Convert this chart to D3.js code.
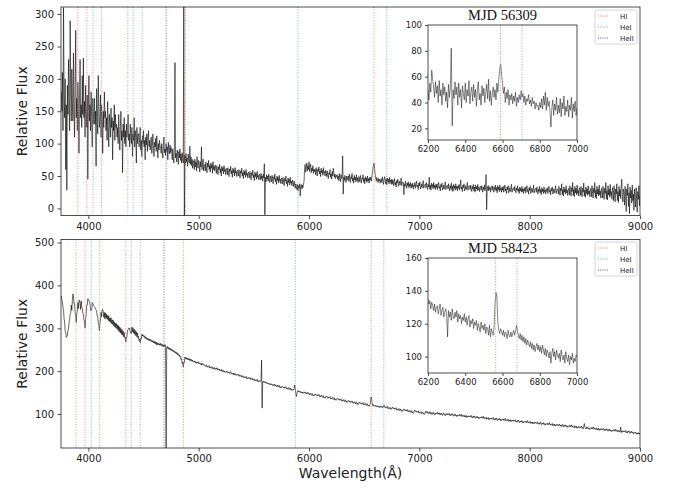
<!DOCTYPE html>
<html lang="en">
<head>
  <meta charset="UTF-8">
  <title>Spectra MJD 56309 / 58423</title>
  <script src="https://d3js.org/d3.v7.min.js"></script>
  <style>
    body { margin: 0; background: #fff; }
    svg { font-family: "DejaVu Sans", sans-serif; }
  </style>
</head>
<body>
  <script>
    // main spectra, one value every 5 A from 3755 A (20 values = 100 A per row)
    const waveStart = 3755, waveStep = 5;
    const flux56309 = [
      180,150,210,120,310,175,140,200,60,160,28,190,145,230,170,120,290,185,135,215,
      165,135,240,150,110,185,275,140,170,120,195,150,85,175,230,140,160,125,205,145,
      232,140,165,110,190,150,125,175,45,150,205,135,160,120,180,140,95,170,150,130,
      170,130,150,65,185,140,115,205,150,125,140,175,110,160,135,85,150,125,180,140,
      150,120,140,105,165,125,95,145,130,110,155,125,140,75,135,120,160,105,145,125,
      130,110,125,100,145,115,90,125,150,105,120,55,130,110,140,100,120,95,130,110,
      120,145,105,115,95,130,110,100,125,80,115,105,140,95,120,110,70,125,100,115,
      115,95,110,125,90,105,80,112,100,120,95,105,75,110,98,115,88,108,120,95,
      105,90,100,110,85,98,115,92,80,102,95,108,88,112,96,78,100,90,105,95,
      95,85,100,88,78,98,110,86,92,82,100,88,95,75,102,90,84,98,86,94,
      88,75,92,80,70,95,225,78,85,72,90,80,68,88,78,92,74,84,70,86,
      78,70,320,-20,82,68,85,72,78,65,84,74,70,96,68,80,66,76,62,74,
      70,60,76,64,72,58,80,66,62,74,68,56,72,64,95,60,70,76,58,66,
      68,58,72,62,55,70,64,74,60,66,56,70,62,68,54,72,60,65,58,67,
      62,54,66,58,52,64,60,68,55,61,50,65,58,63,53,66,57,60,52,62,
      60,52,63,55,49,61,57,65,53,58,48,62,55,60,50,63,54,57,49,59,
      57,50,60,52,47,58,54,62,50,55,46,59,52,57,48,60,51,54,47,56,
      54,47,57,49,44,55,51,59,47,52,43,56,49,54,45,57,48,51,44,53,
      51,44,54,46,50,42,53,47,69,-10,48,41,52,45,50,42,53,46,40,50,
      48,41,51,43,38,49,45,53,41,46,37,50,43,48,39,51,42,45,38,47,
      45,38,48,40,35,46,42,50,38,43,34,47,40,45,36,48,39,42,35,44,
      40,34,42,36,31,38,33,29,37,27,35,31,38,19,33,37,30,36,32,38,
      42,60,68,56,64,70,58,66,60,72,57,64,68,55,62,58,66,54,61,57,
      60,52,63,55,50,61,57,64,53,58,49,62,55,59,51,63,54,57,50,59,
      56,49,58,51,46,55,52,60,48,53,45,57,50,62,55,48,53,46,51,49,
      52,45,50,43,54,47,41,52,46,49,81,22,48,43,51,45,40,50,44,48,
      50,42,53,45,40,49,46,54,42,47,39,51,44,48,41,52,43,47,40,49,
      48,41,51,44,39,47,45,52,41,46,38,49,43,47,40,50,42,46,39,48,
      44,48,42,50,55,62,68,70,60,52,46,42,48,44,40,46,42,45,39,44,
      46,40,48,42,37,45,49,43,38,46,36,47,41,45,38,48,40,44,37,45,
      38,44,35,41,46,36,40,33,43,39,45,34,37,42,36,40,47,35,39,41,
      40,21,38,34,42,36,31,39,35,41,32,38,34,40,31,37,33,39,30,36,
      34,40,31,37,42,33,36,29,39,35,41,30,33,38,32,36,43,31,35,37,
      38,32,40,34,29,37,33,48,30,36,28,39,33,37,30,40,32,36,29,37,
      32,38,29,35,40,31,34,27,37,33,39,28,31,36,30,34,41,29,33,35,
      36,30,38,32,27,35,31,39,28,34,26,37,31,35,28,38,30,34,27,35,
      31,37,28,34,44,30,33,26,36,32,38,27,30,35,29,33,40,28,32,34,
      35,29,36,31,26,34,30,37,27,33,25,36,30,34,27,37,29,32,26,34,
      34,28,35,30,25,33,29,36,27,32,52,-2,30,34,27,35,29,32,25,33,
      34,28,35,30,25,33,29,36,27,32,24,35,29,33,26,36,28,31,25,33,
      28,34,25,31,36,27,30,23,33,29,35,24,27,32,26,30,37,25,29,31,
      32,27,34,28,24,31,28,35,26,30,23,33,27,31,25,34,26,30,23,31,
      27,33,24,30,35,26,29,22,32,28,34,23,26,31,25,29,36,24,28,30,
      31,25,33,27,22,30,26,34,24,29,21,32,26,30,23,33,25,28,22,30,
      26,32,23,29,34,25,28,21,31,27,33,22,25,30,24,28,35,23,27,29,
      30,22,34,26,20,31,27,38,21,29,19,33,25,30,22,35,24,28,20,31,
      31,21,35,25,19,32,26,40,20,29,18,34,24,31,21,36,23,28,19,32,
      30,20,34,24,18,31,25,39,19,28,17,33,23,30,20,35,22,27,18,31,
      29,18,35,23,16,31,24,40,17,28,15,34,22,30,19,36,21,27,16,31,
      28,16,34,22,14,31,23,40,15,27,13,35,21,30,17,37,20,26,14,32,
      27,12,35,20,10,30,22,38,12,26,9,34,19,29,15,36,45,18,10,30,
      25,5,34,18,-5,30,20,38,3,24,-8,33,16,28,8,36,12,22,-3,30,
      18,2,32,10,-6,26,14,35,4,20];

    const flux58423 = [
      375,366,362,349,343,322,314,292,291,279,281,283,296,298,314,318,334,335,354,342,
      365,380,376,356,357,336,329,314,334,341,360,346,366,364,358,344,364,349,347,334,
      333,318,318,301,321,331,354,354,369,367,364,361,358,342,341,341,360,358,354,352,
      351,348,345,342,341,328,328,311,308,295,313,318,337,327,343,344,339,326,337,322,
      336,324,333,321,330,318,329,316,324,314,325,311,320,309,319,306,315,303,312,301,
      311,298,308,295,306,292,303,289,300,286,297,284,294,280,290,277,279,268,278,281,
      295,297,300,299,301,290,291,288,303,292,301,289,298,286,295,283,292,280,289,277,
      281,271,275,266,277,275,286,282,285,281,283,278,281,276,279,274,277,273,276,271,
      275,271,274,269,272,268,271,266,270,265,269,264,268,261,266,262,265,261,264,260,
      265,260,263,258,262,257,261,258,262,257,10,254,258,253,256,251,254,250,253,248,
      251,247,250,245,248,244,246,242,245,240,243,238,241,236,238,233,235,227,229,218,
      221,210,221,220,233,229,232,228,231,227,230,226,229,225,228,224,227,223,226,222,
      223,221,224,220,222,218,221,219,222,217,219,220,216,218,215,219,216,214,217,215,
      214,211,213,215,210,212,209,211,213,208,210,207,209,211,206,208,205,209,206,204,
      207,205,208,203,206,204,202,205,201,203,200,204,201,199,202,198,200,197,199,198,
      200,197,199,196,198,195,197,199,194,196,193,195,192,196,191,193,194,190,192,191,
      193,190,192,188,191,189,187,190,186,188,189,185,187,184,186,188,183,185,182,184,
      186,183,185,181,184,182,180,183,179,181,182,178,180,177,179,181,176,178,175,177,
      178,176,179,226,114,175,177,174,176,173,175,172,174,171,173,170,172,169,171,168,
      171,169,170,167,169,166,168,170,165,167,164,166,168,163,165,167,162,164,161,163,
      165,163,164,161,163,160,162,164,159,161,158,160,162,157,159,161,156,158,155,157,
      158,156,159,168,160,148,141,147,153,155,152,154,151,153,150,152,149,151,148,150,
      152,149,151,148,150,147,149,151,146,148,145,147,149,144,146,148,143,145,142,144,
      147,145,146,143,145,142,144,146,141,143,140,142,144,139,141,143,138,140,137,139,
      142,140,141,138,140,137,139,141,136,138,135,137,139,134,136,138,133,135,132,134,
      137,135,136,133,135,132,134,136,131,133,130,132,134,129,131,133,128,130,127,129,
      132,130,131,128,130,127,129,131,126,128,125,127,129,124,126,128,123,125,122,124,
      128,126,127,124,126,123,125,127,122,124,121,123,125,120,122,124,119,121,118,120,
      123,138,140,130,121,119,122,120,118,121,119,117,120,118,116,119,117,115,118,116,
      119,117,115,118,116,121,118,115,117,114,116,118,113,115,112,114,116,111,113,112,
      116,114,115,112,114,111,113,115,110,112,109,111,113,108,110,112,107,109,106,108,
      112,110,111,108,110,107,109,111,106,108,105,107,109,104,106,108,103,105,102,104,
      109,107,108,105,107,104,106,108,103,105,102,104,106,101,103,105,100,102,99,101,
      106,103,105,107,102,104,101,103,106,100,104,102,99,103,101,104,100,98,102,100,
      103,101,104,100,102,99,103,101,98,102,100,97,101,103,99,100,96,99,101,98,
      101,98,100,102,97,99,96,100,98,101,97,95,99,97,100,96,98,94,97,96,
      98,96,99,95,97,100,95,97,94,96,98,93,96,94,97,92,95,93,96,94,
      96,93,95,97,92,94,91,95,93,96,92,90,94,92,95,91,93,89,92,91,
      93,91,94,90,92,95,90,92,89,91,93,88,91,89,92,87,90,88,91,89,
      91,88,90,92,87,89,86,90,88,91,87,85,89,87,90,86,88,84,87,86,
      88,86,89,85,87,90,85,87,84,86,88,83,86,84,87,82,85,83,86,84,
      86,83,85,87,82,84,81,85,83,86,82,80,84,82,85,81,83,79,82,81,
      83,81,84,80,82,85,80,82,79,81,83,78,81,79,82,77,80,78,81,79,
      81,78,80,82,77,79,76,80,78,81,77,75,79,77,80,76,78,74,77,76,
      78,76,79,75,77,80,75,77,74,76,78,73,76,74,77,72,75,73,76,74,
      76,73,75,77,72,74,71,75,73,76,72,70,74,72,75,71,73,69,72,71,
      73,71,74,70,72,75,70,72,69,71,73,68,71,69,72,67,70,68,71,69,
      71,68,70,72,67,69,66,70,78,71,67,65,69,67,70,66,68,64,67,66,
      68,66,69,65,67,70,65,67,64,66,68,63,66,64,67,62,65,63,66,64,
      66,63,65,67,62,64,61,65,63,66,62,60,64,62,65,61,63,59,62,61,
      63,61,64,60,62,65,60,62,59,61,63,58,61,59,70,57,60,58,61,59,
      61,58,60,62,57,59,56,60,58,61,57,55,59,57,60,56,58,54,57,56,
      58,55,57,54,56,53,57,54,56,52];

    // zoomed H-alpha region, every 5 A from 6200 A
    const insetStart = 6200, insetStep = 5;
    const inset56309 = [
      50,42,55,48,65,58,52,44,56,47,
      53,40,57,45,50,38,55,46,52,41,
      48,36,54,44,51,82,22,50,43,56,
      46,52,38,55,44,50,36,53,47,42,
      55,40,50,45,57,39,48,52,41,54,
      44,50,37,49,56,42,47,38,53,45,
      51,40,48,54,43,58,41,49,38,47,
      52,44,50,42,55,48,58,66,70,62,
      55,47,52,40,48,43,50,38,46,42,
      47,39,45,41,48,37,44,40,46,42,
      49,44,47,40,45,38,43,41,46,39,
      42,37,44,39,41,35,40,37,38,34,
      40,36,43,35,45,38,48,34,44,37,
      41,33,21,36,42,30,39,34,44,31,
      38,32,43,29,40,35,45,30,37,33,
      42,29,38,34,44,28,39,33,41,30,36];
    const inset58423 = [
      135,132,134,129,133,131,128,132,127,130,
      131,126,129,132,125,128,130,124,127,129,
      126,112,128,124,127,122,129,125,123,127,
      124,128,121,126,123,125,120,124,122,126,
      121,124,119,123,125,118,122,120,123,117,
      121,119,122,116,120,118,115,121,117,119,
      116,120,114,118,117,113,119,112,117,115,
      113,118,132,139,136,121,116,114,117,115,
      113,116,112,115,114,111,116,113,112,115,
      112,114,116,113,115,119,116,113,111,114,
      110,113,109,112,108,111,107,110,108,106,
      109,105,108,104,107,103,106,108,104,107,
      103,106,102,107,104,101,105,100,104,102,
      99,103,96,102,105,100,103,98,104,101,
      99,102,97,104,100,98,101,96,103,99,
      97,101,95,100,98,102,96,99,97,101,100];

    // line lists (rest wavelength, A)
    const lineHI = [3889, 3970, 4102, 4340, 4861, 6563];
    const lineHeI = [4026, 4388, 4471, 5876, 6678];
    const lineHeII = [4686];
    const lineNames = ["HI", "HeI", "HeII"];
    const lineColors = ["#f07a5a", "#62a8dc", "#4656b4"];

    const titles = ["MJD 56309", "MJD 58423"];
    const shifts = [1.004, 1.0];
    const xTicks = [4000, 5000, 6000, 7000, 8000, 9000];
    const yTicks56309 = [0, 50, 100, 150, 200, 250, 300];
    const yTicks58423 = [100, 200, 300, 400, 500];
    const insetXTicks = [6200, 6400, 6600, 6800, 7000];
    const insetYTicks56309 = [20, 40, 60, 80, 100];
    const insetYTicks58423 = [100, 120, 140, 160];

    const width = 675, height = 488;
    const svg = d3.select("body").append("svg")
      .attr("width", width)
      .attr("height", height);

    const left = 61, right = 640;
    const x = d3.scaleLinear().domain([3752, 9000]).range([left, right]);
    const xi = d3.scaleLinear().domain([6200, 7000]).range([428, 577]);

    const panels = [
      { flux: flux56309, inset: inset56309, yTicks: yTicks56309, iTicks: insetYTicks56309,
        top: 7, bottom: 215.5, yDom: [-11, 311], iTop: 25, iBottom: 140, iDom: [11, 100],
        titleY: 20, legTop: 10 },
      { flux: flux58423, inset: inset58423, yTicks: yTicks58423, iTicks: insetYTicks58423,
        top: 239.5, bottom: 448, yDom: [21, 507], iTop: 258, iBottom: 373, iDom: [90, 160],
        titleY: 253, legTop: 242 }
    ];

    const lineSets = [lineHI, lineHeI, lineHeII];

    function styleAxis(g, size) {
      g.select(".domain").remove();
      g.attr("font-family", "DejaVu Sans").attr("font-size", size);
      g.selectAll(".tick line").attr("stroke", "#222").attr("stroke-width", 0.8);
      g.selectAll(".tick text").attr("fill", "#222");
    }

    panels.forEach((p, k) => {
      const y = d3.scaleLinear().domain(p.yDom).range([p.bottom, p.top]);
      const g = svg.append("g");

      g.append("clipPath").attr("id", "clip" + k)
        .append("rect")
        .attr("x", left).attr("y", p.top)
        .attr("width", right - left).attr("height", p.bottom - p.top);

      const pts = p.flux.map((f, i) => [waveStart + i * waveStep, f]);
      g.append("path")
        .datum(pts)
        .attr("clip-path", `url(#clip${k})`)
        .attr("fill", "none")
        .attr("stroke", "#000")
        .attr("stroke-width", 0.7)
        .attr("stroke-opacity", 0.85)
        .attr("d", d3.line().x(d => x(d[0])).y(d => y(d[1])));

      // identified lines
      lineSets.forEach((set, s) => {
        g.selectAll(null)
          .data(set)
          .enter().append("line")
          .attr("x1", d => x(d * shifts[k]))
          .attr("x2", d => x(d * shifts[k]))
          .attr("y1", p.top)
          .attr("y2", p.bottom)
          .attr("stroke", lineColors[s])
          .attr("stroke-width", 1)
          .attr("stroke-opacity", 0.85)
          .attr("stroke-dasharray", "1,1.6");
      });

      g.append("g")
        .attr("transform", `translate(0,${p.bottom})`)
        .call(d3.axisBottom(x).tickValues(xTicks).tickSize(3.5).tickPadding(3.5).tickFormat(d3.format("d")))
        .call(a => styleAxis(a, 10));
      g.append("g")
        .attr("transform", `translate(${left},0)`)
        .call(d3.axisLeft(y).tickValues(p.yTicks).tickSize(3.5).tickPadding(3.5).tickFormat(d3.format("d")))
        .call(a => styleAxis(a, 10));

      g.append("rect")
        .attr("x", left).attr("y", p.top)
        .attr("width", right - left).attr("height", p.bottom - p.top)
        .attr("fill", "none").attr("stroke", "#222").attr("stroke-width", 0.8);

      g.append("text")
        .attr("transform", `translate(27,${(p.top + p.bottom) / 2}) rotate(-90)`)
        .attr("text-anchor", "middle")
        .attr("font-size", 14)
        .attr("fill", "#222")
        .text("Relative Flux");

      // inset
      const yi = d3.scaleLinear().domain(p.iDom).range([p.iBottom, p.iTop]);
      const ig = svg.append("g");
      ig.append("rect")
        .attr("x", 428).attr("y", p.iTop)
        .attr("width", 149).attr("height", p.iBottom - p.iTop)
        .attr("fill", "#fff");
      ig.append("clipPath").attr("id", "iclip" + k)
        .append("rect")
        .attr("x", 428).attr("y", p.iTop)
        .attr("width", 149).attr("height", p.iBottom - p.iTop);
      const ipts = p.inset.map((f, i) => [insetStart + i * insetStep, f]);
      ig.append("path")
        .datum(ipts)
        .attr("clip-path", `url(#iclip${k})`)
        .attr("fill", "none")
        .attr("stroke", "#000")
        .attr("stroke-width", 0.6)
        .attr("stroke-opacity", 0.8)
        .attr("d", d3.line().x(d => xi(d[0])).y(d => yi(d[1])));
      lineSets.forEach((set, s) => {
        ig.selectAll(null)
          .data(set.filter(w => w * shifts[k] > 6200 && w * shifts[k] < 7000))
          .enter().append("line")
          .attr("x1", d => xi(d * shifts[k]))
          .attr("x2", d => xi(d * shifts[k]))
          .attr("y1", p.iTop)
          .attr("y2", p.iBottom)
          .attr("stroke", lineColors[s])
          .attr("stroke-width", 1)
          .attr("stroke-opacity", 0.85)
          .attr("stroke-dasharray", "1,1.6");
      });
      ig.append("g")
        .attr("transform", `translate(0,${p.iBottom})`)
        .call(d3.axisBottom(xi).tickValues(insetXTicks).tickSize(3).tickPadding(3).tickFormat(d3.format("d")))
        .call(a => styleAxis(a, 8.5));
      ig.append("g")
        .attr("transform", `translate(428,0)`)
        .call(d3.axisLeft(yi).tickValues(p.iTicks).tickSize(3).tickPadding(3).tickFormat(d3.format("d")))
        .call(a => styleAxis(a, 8.5));
      ig.append("rect")
        .attr("x", 428).attr("y", p.iTop)
        .attr("width", 149).attr("height", p.iBottom - p.iTop)
        .attr("fill", "none").attr("stroke", "#222").attr("stroke-width", 0.8);
      ig.append("text")
        .attr("x", 502.5).attr("y", p.titleY)
        .attr("text-anchor", "middle")
        .attr("font-family", "Liberation Serif")
        .attr("font-size", 14.5)
        .attr("fill", "#111")
        .text(titles[k]);

      // legend
      const lg = svg.append("g").attr("transform", `translate(595,${p.legTop})`);
      lg.append("rect")
        .attr("width", 42).attr("height", 34).attr("rx", 2)
        .attr("fill", "#fff").attr("stroke", "#ccc").attr("stroke-width", 0.8);
      lineNames.forEach((name, s) => {
        const ly = 6 + s * 11;
        lg.append("line")
          .attr("x1", 3).attr("x2", 13).attr("y1", ly).attr("y2", ly)
          .attr("stroke", lineColors[s]).attr("stroke-width", 1)
          .attr("stroke-dasharray", "1,1.2");
        lg.append("text")
          .attr("x", 25).attr("y", ly + 2.5)
          .attr("font-size", 7).attr("fill", "#222")
          .text(name);
      });
    });

    svg.append("text")
      .attr("x", (left + right) / 2).attr("y", 478)
      .attr("text-anchor", "middle")
      .attr("font-size", 14)
      .attr("fill", "#222")
      .text("Wavelength(Å)");
  </script>
</body>
</html>
